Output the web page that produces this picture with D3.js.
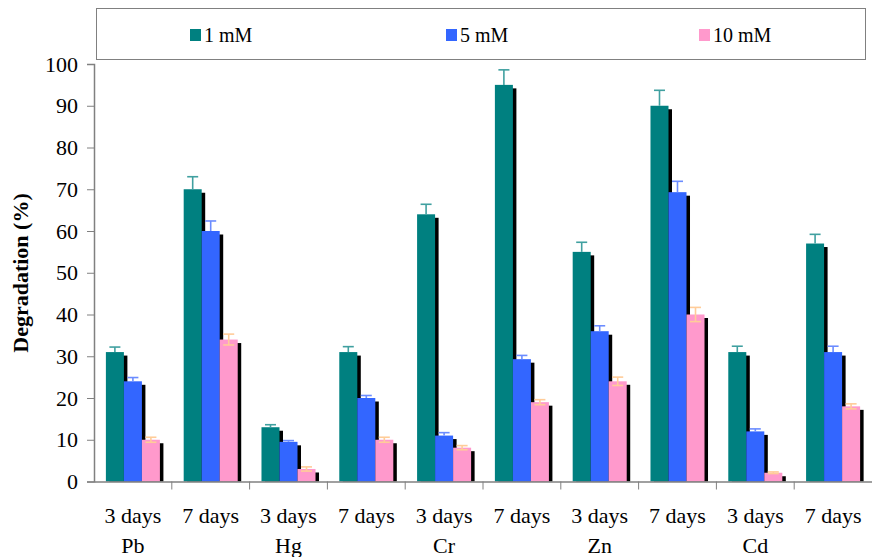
<!DOCTYPE html>
<meta charset="utf-8">
<script src="https://d3js.org/d3.v7.min.js"></script>
<style type="text/css">
body { margin: 0; background: #fff; }
</style>
<body>
</body>
<script>

// data
var metals = ["Pb", "Hg", "Cr", "Zn", "Cd"];
var days = ["3 days", "7 days"];
var series = ["1 mM", "5 mM", "10 mM"];
var colors = ["#008080", "#3366ff", "#ff99cc"];
var errColors = ["#40a0a0", "#6b8cff", "#ffcc99"];

// one entry per metal/day group, in order Pb 3d, Pb 7d, Hg 3d ...
var val1 = [31, 70, 13, 31, 64, 95, 55, 90, 31, 57];
var val5 = [24, 60, 9.5, 20, 11, 29.3, 36, 69.3, 12, 31];
var val10 = [10, 34, 3, 10, 8.1, 19, 24, 40, 2.1, 18];
var err1 = [1.2, 3, 0.6, 1.3, 2.4, 3.6, 2.3, 3.7, 1.4, 2.2];
var err5 = [0.9, 2.4, 0.3, 0.6, 0.7, 0.9, 1.3, 2.6, 0.6, 1.4];
var err10 = [0.6, 1.3, 0.5, 0.6, 0.5, 0.6, 1.0, 1.7, 0.2, 0.6];
var yTicks = [0, 10, 20, 30, 40, 50, 60, 70, 80, 90, 100];

var vals = [val1, val5, val10];
var errs = [err1, err5, err10];
var serif = "'Liberation Serif', 'Times New Roman', serif";

var groups = [];
metals.forEach(function(m) {
  days.forEach(function(d) { groups.push(m + "|" + d); });
});

var data = [];
groups.forEach(function(g, i) {
  series.forEach(function(s, j) {
    data.push({group: g, series: s, si: j, value: vals[j][i], err: errs[j][i]});
  });
});

var margin = {top: 64, right: 0, bottom: 75.5, left: 94};
var width = 872 - margin.left - margin.right;
var height = 557 - margin.top - margin.bottom;

var svg = d3.select("body").append("svg")
  .attr("width", 872)
  .attr("height", 557);

var g = svg.append("g")
  .attr("transform", "translate(" + margin.left + "," + margin.top + ")");

var x0 = d3.scaleBand()
  .domain(groups)
  .range([0, width])
  .padding(0);

var x1 = d3.scaleBand()
  .domain(series)
  .range([0, x0.bandwidth()])
  .paddingInner(0)
  .paddingOuter(0.66);

var yScale = d3.scaleLinear()
  .domain([0, 100])
  .range([height, 0]);

// legend box
var legend = svg.append("g");
legend.append("rect")
  .attr("x", 96.5).attr("y", 8.5)
  .attr("width", 769).attr("height", 51)
  .attr("fill", "#fff")
  .attr("stroke", "#808080");

var legendX = [190, 446, 699];
series.forEach(function(s, i) {
  legend.append("rect")
    .attr("x", legendX[i]).attr("y", 29)
    .attr("width", 11).attr("height", 12)
    .attr("fill", colors[i]);
  legend.append("text")
    .attr("x", legendX[i] + 14).attr("y", 42)
    .attr("fill", "#000")
    .style("font-family", serif)
    .style("font-size", "20px")
    .text(s);
});

// bars: shadow first, then bar, then error bar
var shadow = 3.5;
var bars = g.selectAll(".bar")
  .data(data)
  .enter().append("g")
  .attr("class", "bar");

bars.append("rect")
  .attr("x", function(d) { return x0(d.group) + x1(d.series) + shadow; })
  .attr("y", function(d) { return yScale(d.value) + shadow; })
  .attr("width", x1.bandwidth())
  .attr("height", function(d) { return Math.max(0, height - yScale(d.value) - shadow); })
  .attr("fill", "#000");

bars.append("rect")
  .attr("x", function(d) { return x0(d.group) + x1(d.series); })
  .attr("y", function(d) { return yScale(d.value); })
  .attr("width", x1.bandwidth())
  .attr("height", function(d) { return height - yScale(d.value); })
  .attr("fill", function(d) { return colors[d.si]; });

var cap = 5.5;
bars.each(function(d) {
  var cx = x0(d.group) + x1(d.series) + x1.bandwidth() / 2;
  var hi = yScale(d.value + d.err), lo = yScale(d.value - d.err);
  var e = d3.select(this).append("g")
    .attr("stroke", errColors[d.si])
    .attr("stroke-width", 1.6);
  // only the pink series shows the lower half against its bar
  var bottom = d.si == 2 ? lo : yScale(d.value);
  e.append("line").attr("x1", cx).attr("x2", cx).attr("y1", hi).attr("y2", bottom);
  e.append("line").attr("x1", cx - cap).attr("x2", cx + cap).attr("y1", hi).attr("y2", hi);
  if (d.si == 2) {
    e.append("line").attr("x1", cx - cap).attr("x2", cx + cap).attr("y1", lo).attr("y2", lo);
  }
});

// y axis
var yAxis = d3.axisLeft(yScale)
  .tickValues(yTicks)
  .tickSize(7)
  .tickPadding(9);

var yAxisGroup = g.append("g")
  .attr("class", "y axis")
  .call(yAxis);

yAxisGroup.select(".domain").attr("stroke", "#808080").attr("stroke-width", 1.5);
yAxisGroup.selectAll(".tick line").attr("stroke", "#808080");
yAxisGroup.selectAll("text")
  .attr("fill", "#000")
  .style("font-family", serif)
  .style("font-size", "22px");

// x axis
var xAxis = d3.axisBottom(x0)
  .tickValues([])
  .tickSizeOuter(0);

var xAxisGroup = g.append("g")
  .attr("class", "x axis")
  .attr("transform", "translate(0," + height + ")")
  .call(xAxis);

xAxisGroup.select(".domain").attr("stroke", "#808080").attr("stroke-width", 1.5);

xAxisGroup.selectAll(".sep")
  .data(groups.slice(1))
  .enter().append("line")
  .attr("class", "sep")
  .attr("x1", function(d) { return x0(d); })
  .attr("x2", function(d) { return x0(d); })
  .attr("y1", 0).attr("y2", 8)
  .attr("stroke", "#808080");

xAxisGroup.selectAll(".daylab")
  .data(groups)
  .enter().append("text")
  .attr("class", "daylab")
  .attr("x", function(d) { return x0(d) + x0.bandwidth() / 2; })
  .attr("y", 41)
  .attr("text-anchor", "middle")
  .attr("fill", "#000")
  .style("font-family", serif)
  .style("font-size", "22px")
  .text(function(d) { return d.split("|")[1]; });

xAxisGroup.selectAll(".metallab")
  .data(metals)
  .enter().append("text")
  .attr("class", "metallab")
  .attr("x", function(d, i) { return x0(groups[i * 2]) + x0.bandwidth() / 2; })
  .attr("y", 71)
  .attr("text-anchor", "middle")
  .attr("fill", "#000")
  .style("font-family", serif)
  .style("font-size", "22px")
  .text(function(d) { return d; });

// y axis title
svg.append("text")
  .attr("transform", "translate(28," + 273 + ") rotate(-90)")
  .attr("text-anchor", "middle")
  .attr("fill", "#000")
  .style("font-family", serif)
  .style("font-size", "22px")
  .style("font-weight", "bold")
  .text("Degradation (%)");

</script>
